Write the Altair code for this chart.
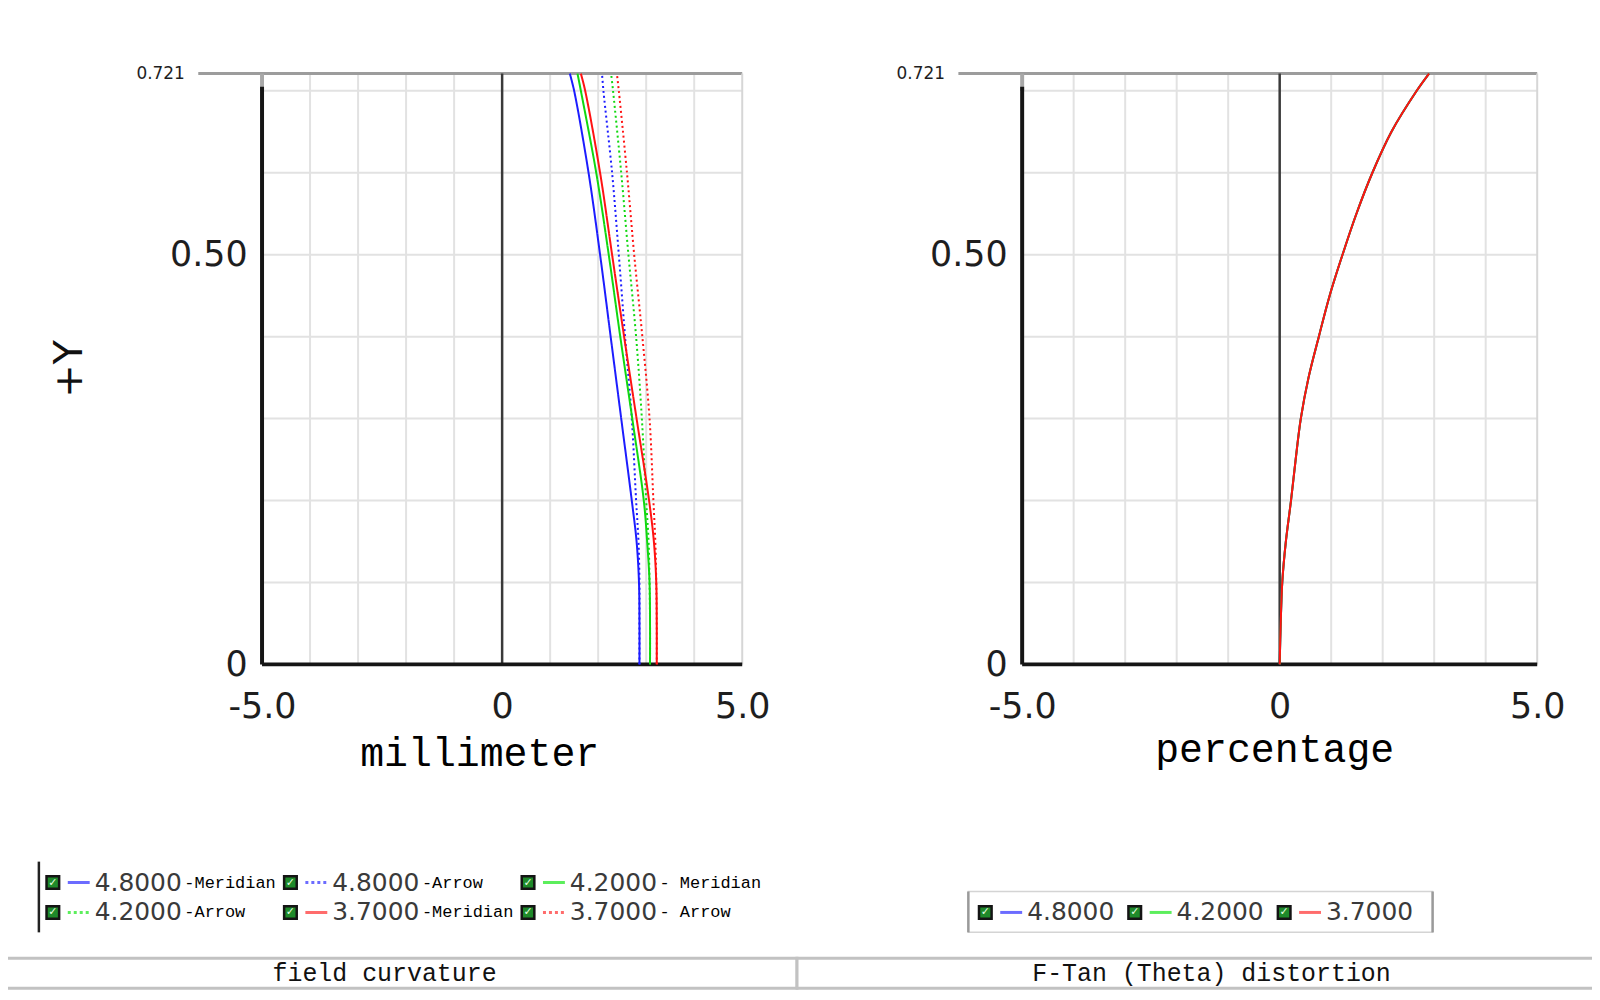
import altair as alt
import pandas as pd

W, H = 1590, 984

# field curvature (millimeter) against field +Y
FIELD_Y = [0, 0.05, 0.1, 0.15, 0.2, 0.3, 0.4, 0.5, 0.6, 0.7, 0.721]
MERID_48 = [2.86, 2.86, 2.85, 2.80, 2.70, 2.48, 2.26, 2.04, 1.80, 1.50, 1.41]
ARROW_48 = [2.86, 2.86, 2.86, 2.84, 2.79, 2.70, 2.56, 2.43, 2.29, 2.11, 2.08]
MERID_42 = [3.08, 3.08, 3.07, 3.02, 2.95, 2.71, 2.46, 2.22, 1.96, 1.64, 1.57]
ARROW_42 = [3.08, 3.08, 3.07, 3.05, 3.00, 2.91, 2.79, 2.63, 2.48, 2.31, 2.27]
MERID_37 = [3.22, 3.22, 3.21, 3.16, 3.06, 2.80, 2.54, 2.29, 2.04, 1.73, 1.64]
ARROW_37 = [3.22, 3.22, 3.21, 3.19, 3.15, 3.07, 2.92, 2.75, 2.60, 2.43, 2.39]

# F-Tan(Theta) distortion (percentage) against field +Y
DIST_Y = [0, 0.05, 0.1, 0.15, 0.2, 0.25, 0.3, 0.35, 0.4, 0.45, 0.5, 0.55, 0.6, 0.65, 0.7, 0.721]
DIST_48 = [0, 0.02, 0.05, 0.12, 0.22, 0.31, 0.41, 0.56, 0.76, 0.97, 1.22, 1.49, 1.80, 2.17, 2.66, 2.90]
DIST_42 = [0, 0.02, 0.05, 0.12, 0.22, 0.31, 0.41, 0.56, 0.76, 0.97, 1.22, 1.49, 1.80, 2.17, 2.66, 2.90]
DIST_37 = [0, 0.02, 0.05, 0.12, 0.22, 0.31, 0.41, 0.56, 0.76, 0.97, 1.22, 1.49, 1.80, 2.17, 2.66, 2.90]

WAVES = ["4.8000", "4.2000", "3.7000"]
KINDS = ["Meridian", "Arrow"]
LINE_COLORS = ["#1c1cff", "#10d810", "#ff1212"]
LEGEND_COLORS = ["#6c6cff", "#5cee5c", "#ff6c6c"]

GRID_X = [-4, -3, -2, -1, 1, 2, 3, 4]
GRID_Y = [0.1, 0.2, 0.3, 0.4, 0.5, 0.6, 0.7]
X_TICKS = [-5, 0, 5]
Y_TICKS = [0, 0.5, 0.721]
Y_MAX = 0.721

# legend entries (left box: 3 columns x 2 rows)
LEG_WAVE = ["4.8000", "4.8000", "4.2000", "4.2000", "3.7000", "3.7000"]
LEG_KIND = ["Meridian", "Arrow", "Meridian", "Arrow", "Meridian", "Arrow"]
LEG_SUFFIX = ["-Meridian", "-Arrow", "- Meridian", "-Arrow", "-Meridian", "- Arrow"]
LEG_COL = [0, 1, 2, 0, 1, 2]
LEG_ROW = [0, 0, 0, 1, 1, 1]
DIST_LEG_COL = [0, 1, 2]

TAB_LABELS = ["field curvature", "F-Tan (Theta) distortion"]
TAB_START = [0, 1]
TAB_END = [1, 2]

LEFT_X_RANGE = [255, 737]
RIGHT_X_RANGE = [1018, 1535]
PLOT_Y_RANGE = [657, 64]

NUM_FONT = "DejaVu Sans"
TXT_FONT = "Liberation Mono"

field_rows = []
for wave, kind, vals in [
    ("4.8000", "Meridian", MERID_48), ("4.8000", "Arrow", ARROW_48),
    ("4.2000", "Meridian", MERID_42), ("4.2000", "Arrow", ARROW_42),
    ("3.7000", "Meridian", MERID_37), ("3.7000", "Arrow", ARROW_37),
]:
    for i, (x, y) in enumerate(zip(vals, FIELD_Y)):
        field_rows.append({"wave": wave, "kind": kind, "series": wave + kind, "i": i, "x": x, "y": y})
field_df = pd.DataFrame(field_rows)

dist_rows = []
for wave, vals in zip(WAVES, [DIST_48, DIST_42, DIST_37]):
    for i, (x, y) in enumerate(zip(vals, DIST_Y)):
        dist_rows.append({"wave": wave, "i": i, "x": x, "y": y})
dist_df = pd.DataFrame(dist_rows)

leg_df = pd.DataFrame({"wave": LEG_WAVE, "kind": LEG_KIND, "suffix": LEG_SUFFIX, "col": LEG_COL, "row": LEG_ROW})
dleg_df = pd.DataFrame({"wave": WAVES, "col": DIST_LEG_COL, "row": [1, 1, 1]})
tab_df = pd.DataFrame({"label": TAB_LABELS, "c0": TAB_START, "c1": TAB_END})

Y_SCALE = alt.Scale(domain=[0, Y_MAX], range=PLOT_Y_RANGE, nice=False, zero=False)
LINE_COLOR = alt.Color("wave:N", scale=alt.Scale(domain=WAVES, range=LINE_COLORS), legend=None)
LEG_COLOR = alt.Color("wave:N", scale=alt.Scale(domain=WAVES, range=LEGEND_COLORS), legend=None)


def x_axis(title, title_x, title_y):
    return alt.Axis(
        orient="bottom", offset=PLOT_Y_RANGE[0] - H, values=X_TICKS,
        labelExpr="datum.value == 0 ? '0' : (datum.value < 0 ? '-' : '') + format(abs(datum.value), '.1f')",
        labelFont=NUM_FONT, labelFontSize=35, labelColor="#1e1e1e", labelPadding=25,
        labelFlush=False, labelOverlap=False, domain=False, ticks=False, grid=False,
        title=title, titleFont=TXT_FONT, titleFontSize=40, titleFontWeight="normal",
        titleColor="#000000", titleX=title_x, titleY=title_y,
        titleAlign="center", titleBaseline="alphabetic",
    )


def y_axis(axis_x, title):
    return alt.Axis(
        orient="left", offset=-axis_x, values=Y_TICKS,
        labelExpr="datum.value == 0 ? '0' : (datum.value > 0.7 ? '0.721' : format(datum.value, '.2f'))",
        labelFont=NUM_FONT, labelColor="#1e1e1e",
        labelFontSize={"condition": {"test": "datum.value > 0.7", "value": 17}, "value": 35},
        labelPadding={"condition": {"test": "datum.value > 0.7", "value": 78}, "value": 15},
        labelFlush=False, labelOverlap=False, domain=False, ticks=False, grid=False,
        title=title, titleFont=NUM_FONT, titleFontSize=40, titleFontWeight="normal",
        titleColor="#111111", titleAngle=270, titleX=62 - axis_x, titleY=360,
        titleAlign="center", titleBaseline="middle",
    )


def frame_layers(x_range):
    xs = alt.Scale(domain=[-5, 5], range=x_range, nice=False, zero=False)
    grid_v = alt.Chart(pd.DataFrame({"v": GRID_X})).mark_rule(color="#e2e2e2", strokeWidth=2).encode(
        x=alt.X("v:Q", scale=xs, axis=None),
        y=alt.YDatum(0, scale=Y_SCALE, axis=None), y2=alt.Y2Datum(Y_MAX),
    )
    grid_h = alt.Chart(pd.DataFrame({"h": GRID_Y})).mark_rule(color="#e2e2e2", strokeWidth=2).encode(
        y=alt.Y("h:Q", scale=Y_SCALE, axis=None),
        x=alt.XDatum(-5, scale=xs, axis=None), x2=alt.X2Datum(5),
    )
    top = alt.Chart().mark_rule(color="#9c9c9c", strokeWidth=3, xOffset=-64).encode(
        y=alt.YDatum(Y_MAX, scale=Y_SCALE, axis=None),
        x=alt.XDatum(-5, scale=xs, axis=None), x2=alt.X2Datum(5),
    )
    right = alt.Chart().mark_rule(color="#d6d6d6", strokeWidth=2).encode(
        x=alt.XDatum(5, scale=xs, axis=None),
        y=alt.YDatum(0, scale=Y_SCALE, axis=None), y2=alt.Y2Datum(Y_MAX),
    )
    zero = alt.Chart().mark_rule(color="#3a3a3a", strokeWidth=2.5).encode(
        x=alt.XDatum(0, scale=xs, axis=None),
        y=alt.YDatum(0, scale=Y_SCALE, axis=None), y2=alt.Y2Datum(Y_MAX),
    )
    left_top = alt.Chart().mark_rule(color="#a8a8a8", strokeWidth=4).encode(
        x=alt.XDatum(-5, scale=xs, axis=None),
        y=alt.YDatum(0.7, scale=Y_SCALE, axis=None), y2=alt.Y2Datum(Y_MAX),
    )
    left = alt.Chart().mark_rule(color="#151515", strokeWidth=4).encode(
        x=alt.XDatum(-5, scale=xs, axis=None),
        y=alt.YDatum(0, scale=Y_SCALE, axis=None), y2=alt.Y2Datum(0.705),
    )
    bottom = alt.Chart().mark_rule(color="#151515", strokeWidth=4).encode(
        y=alt.YDatum(0, scale=Y_SCALE, axis=None),
        x=alt.XDatum(-5, scale=xs, axis=None), x2=alt.X2Datum(5),
    )
    return [grid_v, grid_h, top, right, zero, left_top, left, bottom], xs


left_frame, left_xs = frame_layers(LEFT_X_RANGE)
right_frame, right_xs = frame_layers(RIGHT_X_RANGE)

field_lines = alt.Chart(field_df).mark_line(strokeWidth=2, interpolate="catmull-rom").encode(
    x=alt.X("x:Q", scale=left_xs, axis=x_axis("millimeter", 473, 102)),
    y=alt.Y("y:Q", scale=Y_SCALE, axis=y_axis(LEFT_X_RANGE[0], "+Y")),
    color=LINE_COLOR,
    strokeDash=alt.StrokeDash("kind:N", scale=alt.Scale(domain=KINDS, range=[[1, 0], [2, 3]]), legend=None),
    detail="series:N",
    order="i:Q",
)

dist_lines = alt.Chart(dist_df).mark_line(strokeWidth=2, interpolate="catmull-rom").encode(
    x=alt.X("x:Q", scale=right_xs, axis=x_axis("percentage", 1271, 97)),
    y=alt.Y("y:Q", scale=Y_SCALE, axis=y_axis(RIGHT_X_RANGE[0], "")),
    color=LINE_COLOR,
    detail="wave:N",
    order="i:Q",
)

# legends
LEG_Y = alt.Scale(domain=[0, 1], range=[876, 906])


def legend_layers(df, x_range, dashed, with_suffix):
    lx = alt.Scale(domain=[0, 2], range=x_range)
    pos = dict(x=alt.X("col:Q", scale=lx, axis=None), y=alt.Y("row:Q", scale=LEG_Y, axis=None))
    base = alt.Chart(df)
    icon = base.mark_square(size=160, filled=True, color="#1f8a2a", stroke="#141414",
                            strokeWidth=2.5, opacity=1).encode(**pos)
    check = base.mark_text(text="✓", font=NUM_FONT, fontSize=11, color="#e6ffe6",
                           align="center", baseline="middle").encode(**pos)
    seg_enc = dict(pos, x2=alt.X2("col:Q"), color=LEG_COLOR)
    if dashed:
        seg_enc["strokeDash"] = alt.StrokeDash(
            "kind:N", scale=alt.Scale(domain=KINDS, range=[[1, 0], [3, 3]]), legend=None)
    seg = base.mark_rule(strokeWidth=3, xOffset=15, x2Offset=37).encode(**seg_enc)
    num = base.mark_text(align="left", baseline="middle", dx=42, font=NUM_FONT,
                         fontSize=25, color="#3a3a3a").encode(text="wave:N", **pos)
    layers = [icon, check, seg, num]
    if with_suffix:
        layers.append(base.mark_text(align="left", baseline="middle", dx=132, font=TXT_FONT,
                                     fontSize=17, color="#000000").encode(text="suffix:N", **pos))
    return layers, lx


field_leg, field_lx = legend_layers(leg_df, [45, 522], True, True)
field_leg_border = alt.Chart().mark_rule(color="#222222", strokeWidth=2.5, xOffset=-14,
                                         yOffset=-21, y2Offset=20).encode(
    x=alt.XDatum(0, scale=field_lx, axis=None),
    y=alt.YDatum(0, scale=LEG_Y, axis=None), y2=alt.Y2Datum(1),
)

dist_leg, dist_lx = legend_layers(dleg_df, [981, 1281], False, False)
dist_box = alt.Chart().mark_rect(fill="white", stroke="#d4d4d4", strokeWidth=1.5, xOffset=-17,
                                 x2Offset=149, yOffset=-21, y2Offset=20).encode(
    x=alt.XDatum(0, scale=dist_lx, axis=None), x2=alt.X2Datum(2),
    y=alt.YDatum(1, scale=LEG_Y, axis=None), y2=alt.Y2Datum(1),
)
dist_box_l = alt.Chart().mark_rule(color="#9a9a9a", strokeWidth=2.5, xOffset=-17,
                                   yOffset=-21, y2Offset=20).encode(
    x=alt.XDatum(0, scale=dist_lx, axis=None),
    y=alt.YDatum(1, scale=LEG_Y, axis=None), y2=alt.Y2Datum(1),
)
dist_box_r = alt.Chart().mark_rule(color="#9a9a9a", strokeWidth=2.5, xOffset=149,
                                   yOffset=-21, y2Offset=20).encode(
    x=alt.XDatum(2, scale=dist_lx, axis=None),
    y=alt.YDatum(1, scale=LEG_Y, axis=None), y2=alt.Y2Datum(1),
)

# bottom tabs
TAB_X = alt.Scale(domain=[0, 2], range=[-8, 1592])
TAB_Y = alt.Scale(domain=[0, 1], range=[952, 982])
tabs = alt.Chart(tab_df).mark_rect(fill="white", stroke="#c2c2c2", strokeWidth=3).encode(
    x=alt.X("c0:Q", scale=TAB_X, axis=None), x2="c1:Q",
    y=alt.YDatum(0, scale=TAB_Y, axis=None), y2=alt.Y2Datum(1),
)


def tab_label(label, shift):
    return alt.Chart(tab_df).transform_filter(alt.datum.label == label).transform_calculate(
        mid="(datum.c0 + datum.c1) / 2"
    ).mark_text(font=TXT_FONT, fontSize=25, color="#111111", baseline="middle", dx=shift).encode(
        x=alt.X("mid:Q", scale=TAB_X, axis=None),
        y=alt.YDatum(0.5, scale=TAB_Y, axis=None),
        text="label:N",
    )


tab_texts = [tab_label(TAB_LABELS[0], -14), tab_label(TAB_LABELS[1], 16)]

chart = (
    alt.layer(
        *left_frame, *right_frame, field_lines, dist_lines,
        field_leg_border, *field_leg,
        dist_box, dist_box_l, dist_box_r, *dist_leg,
        tabs, *tab_texts,
    )
    .resolve_scale(x="independent", y="independent", color="independent", strokeDash="independent")
    .properties(width=W, height=H, padding=0, autosize=alt.AutoSizeParams(type="none"),
                background="white")
    .configure_view(stroke=None)
)

chart.save("out.html", embed_options={"renderer": "svg", "actions": False})
